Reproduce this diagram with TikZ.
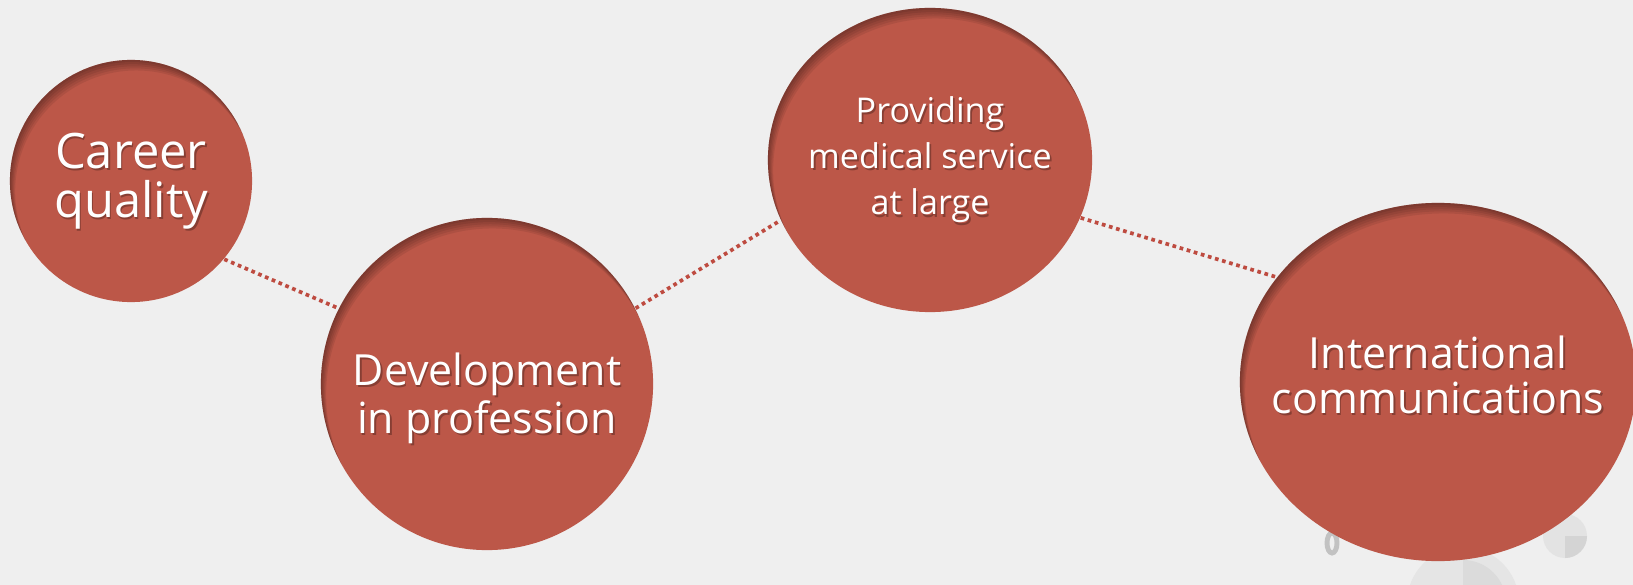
\documentclass[tikz,border=0pt]{standalone}
\usepackage{fontspec}
\setmainfont{Open Sans}
\usetikzlibrary{shapes.geometric}
\definecolor{bubblered}{HTML}{BC5748}
\definecolor{dotred}{HTML}{BE4B40}
\definecolor{paper}{HTML}{EFEFEF}
\tikzset{
    bubble/.style 2 args={ellipse, fill=bubblered, inner sep=0pt, minimum width=#1, minimum height=#2,
        path picture={
            \foreach \s in {1,...,5}
                \fill[black, opacity=0.075, even odd rule]
                    ([shift={(-3cm,3cm)}]path picture bounding box.center) rectangle ([shift={(3cm,-3cm)}]path picture bounding box.center)
                    ([xshift=0.3*\s pt, yshift=-0.6*\s pt]path picture bounding box.center) ellipse [x radius=#1/2, y radius=#2/2];
        }},
    bubbletext/.style={text=white, align=center, inner sep=0pt},
    bubbleshade/.style={text=black, text opacity=0.28, align=center, inner sep=0pt, xshift=0.5pt, yshift=-0.6pt},
}
\begin{document}
\begin{tikzpicture}[x=0.01cm, y=-0.01cm]
    \fill[paper] (0,0) rectangle (1633,585);
    \useasboundingbox (0,0) rectangle (1633,585);
    \clip (0,0) rectangle (1633,585);
    % faint grey ornaments in the corner
    \fill[gray!20] (1463,603) circle (56);
    \fill[gray!28] (1463,603) -- (1463,560) arc[start angle=-90, end angle=90, radius=43] -- cycle;
    \fill[gray!22] (1565,536) circle (22);
    \fill[gray!34] (1565,536) -- (1587,536) arc[start angle=0, end angle=90, radius=22] -- cycle;
    \draw[gray!48, line width=1.4pt] (1332,543) ellipse [x radius=5, y radius=10];
    \begin{scope}
        \tikzstyle{every label}=[bubbletext]
        \node[bubble={2.42cm}{2.42cm},
            label={[bubbleshade, font=\fontsize{13.9}{13.9}\selectfont]center:{Career\\quality}},
            label={[font=\fontsize{13.9}{13.9}\selectfont]center:{Career\\quality}}] (0) at (131,181) {};
        \node[bubble={3.32cm}{3.32cm},
            label={[bubbleshade, font=\fontsize{12.2}{13.7}\selectfont, yshift=-4pt]center:{Development\\in profession}},
            label={[font=\fontsize{12.2}{13.7}\selectfont, yshift=-4pt]center:{Development\\in profession}}] (1) at (487,384) {};
        \node[bubble={3.24cm}{3.04cm},
            label={[bubbleshade, font=\fontsize{9.7}{13.1}\selectfont]center:{Providing\\medical service\\at large}},
            label={[font=\fontsize{9.7}{13.1}\selectfont]center:{Providing\\medical service\\at large}}] (2) at (930,160) {};
        \node[bubble={3.96cm}{3.58cm},
            label={[bubbleshade, font=\fontsize{12.2}{12.8}\selectfont, yshift=2pt]center:{International\\communications}},
            label={[font=\fontsize{12.2}{12.8}\selectfont, yshift=2pt]center:{International\\communications}}] (3) at (1438,382) {};
    \end{scope}
    \begin{scope}
        \tikzstyle{every edge}=[draw, dotred, line width=1.05pt, dash pattern=on 1.05pt off 1.05pt]
        \path
        (0.-40) edge (1.153)
        (1.27) edge (2.202)
        (2.-21) edge (3.147)
        ;
    \end{scope}
\end{tikzpicture}
\end{document}
